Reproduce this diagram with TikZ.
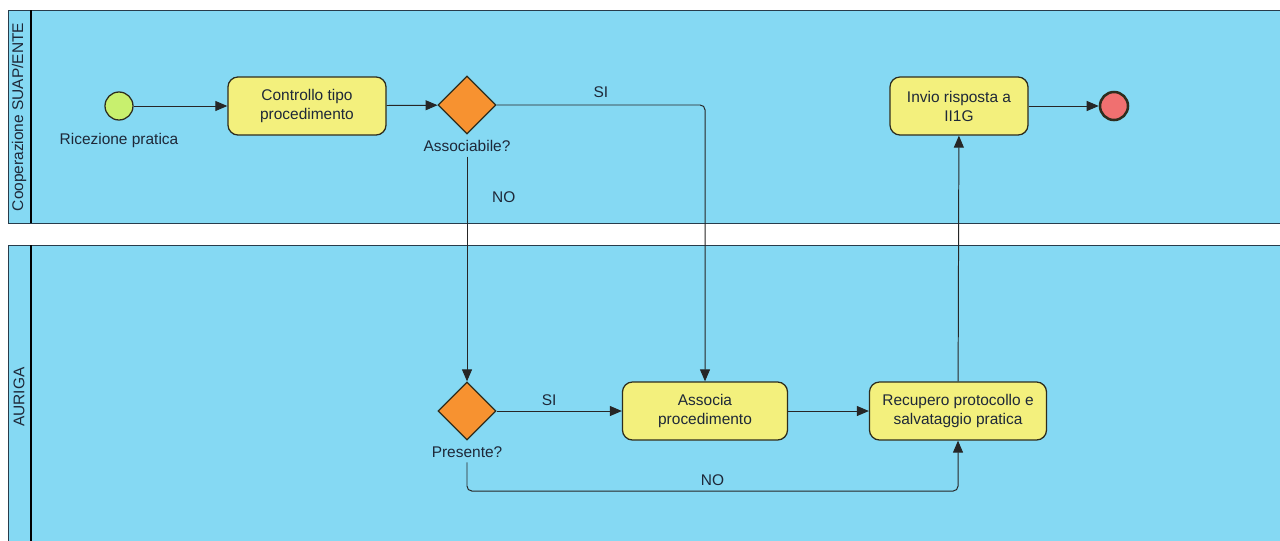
\documentclass[tikz,border=0pt]{standalone}
\usepackage{fontspec}
\setmainfont{Liberation Sans}
\usetikzlibrary{shapes.geometric,arrows.meta}

\definecolor{corsia}{RGB}{133,217,243}
\definecolor{bordocorsia}{RGB}{40,60,75}
\definecolor{giallo}{RGB}{243,240,125}
\definecolor{arancio}{RGB}{247,146,48}
\definecolor{verde}{RGB}{200,240,110}
\definecolor{rosso}{RGB}{240,112,112}
\definecolor{bordo}{RGB}{45,45,30}
\definecolor{testo}{RGB}{30,40,56}

\begin{document}
\begin{tikzpicture}[x=0.025cm,y=-0.025cm,
  font=\fontsize{11}{13.5}\selectfont,
  attivita/.style={draw=bordo,fill=giallo,rounded corners=0.25cm,line width=0.9pt,
    minimum height=1.45cm,align=center,text=testo},
  decisione/.style={diamond,draw=bordo,fill=arancio,line width=0.9pt,
    minimum width=1.45cm,minimum height=1.45cm,inner sep=0pt},
  evento/.style={circle,draw=bordo,line width=0.9pt,minimum size=0.7cm,inner sep=0pt},
  etichetta/.style={text=testo},
  flusso/.style={draw=black!85,line width=0.7pt,
    -{Triangle[length=0.3cm,width=0.25cm]},rounded corners=0.12cm}
]

\useasboundingbox (0,0) rectangle (1280,540);
\clip (0,0) rectangle (1280,540);

% Corsia Cooperazione
\draw[fill=corsia,draw=bordocorsia,line width=0.7pt] (8,10) rectangle (1290,223);
\draw[line width=1.6pt] (31,10) -- (31,223);
\node[etichetta,rotate=90] (corsia1) at (19,117) {Cooperazione SUAP/ENTE};

% Corsia AURIGA
\draw[fill=corsia,draw=bordocorsia,line width=0.7pt] (8,245) rectangle (1290,560);
\draw[line width=1.6pt] (31,245) -- (31,560);
\node[etichetta,rotate=90] (corsia2) at (19,397) {AURIGA};

% Attivita e decisioni
\node[evento,fill=verde,
  label={[name=linizio,etichetta,label distance=0.2cm]below:Ricezione pratica}]
  (inizio) at (119,106) {};
\node[attivita,minimum width=3.95cm] (controllo) at (307,106)
  {Controllo tipo\\procedimento};
\node[decisione,
  label={[name=lassociabile,etichetta,label distance=0.02cm]below:Associabile?}]
  (associabile) at (467,105) {};
\node[attivita,minimum width=3.45cm] (invio) at (959,106)
  {Invio risposta a\\II1G};
\node[evento,fill=rosso,line width=1.8pt] (fine) at (1114,106) {};

\node[decisione,
  label={[name=lpresente,etichetta,label distance=0.02cm]below:Presente?}]
  (presente) at (467,411) {};
\node[attivita,minimum width=4.125cm] (associa) at (705,411)
  {Associa\\procedimento};
\node[attivita,minimum width=4.425cm] (recupero) at (958,411)
  {Recupero protocollo e\\salvataggio pratica};

\coordinate (fondo) at (700,491);

% Flussi
\draw[flusso] (inizio) -- (controllo);
\draw[flusso] (controllo) -- (associabile);
\draw[flusso] (associabile.east) -| node[pos=0.25,above=0.05cm,etichetta] {SI}
  (associa.north);
\draw[flusso] (lassociabile.south) -- node[pos=0.18,right=0.5cm,etichetta] {NO}
  (presente.north);
\draw[flusso] (presente.east) -- node[pos=0.42,above,etichetta] {SI} (associa.west);
\draw[flusso] (associa) -- (recupero);
\draw[flusso] (lpresente.south) -- (lpresente.south |- fondo)
  -- node[above,etichetta] {NO} (recupero.south |- fondo) -- (recupero.south);
\draw[flusso] (recupero) -- (invio);
\draw[flusso] (invio) -- (fine);

\end{tikzpicture}
\end{document}
